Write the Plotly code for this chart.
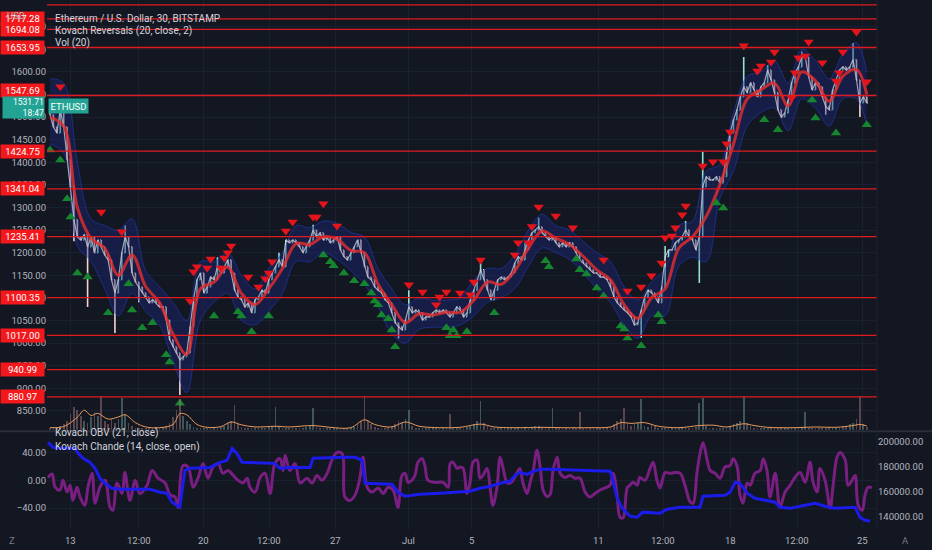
import plotly.graph_objects as go

# ---- price bars (one bar per read step, index 0..239) ----
close = [
    1505, 1478, 1465, 1516, 1478, 1405, 1346, 1273, 1235, 1228,
    1240, 1213, 1235, 1200, 1228, 1213, 1195, 1184, 1140, 1111,
    1140, 1200, 1235, 1213, 1155, 1135, 1124, 1111, 1102, 1089,
    1096, 1089, 1080, 1080, 1051, 1007, 992, 978, 963, 970,
    978, 1036, 1096, 1140, 1155, 1111, 1124, 1146, 1140, 1169,
    1155, 1169, 1184, 1155, 1117, 1102, 1096, 1080, 1089, 1067,
    1096, 1102, 1117, 1111, 1140, 1155, 1169, 1184, 1169, 1228,
    1222, 1228, 1222, 1213, 1200, 1213, 1228, 1250, 1235, 1244,
    1228, 1235, 1222, 1228,
    1235, 1206, 1191, 1184, 1200, 1213, 1228, 1200, 1169, 1146,
    1140, 1124, 1117, 1111, 1096, 1089, 1067, 1045, 1036, 1029,
    1051, 1080, 1067, 1073, 1067, 1051, 1058, 1058, 1067, 1073,
    1067, 1073, 1067, 1058, 1067, 1080, 1073, 1058, 1067, 1096,
    1117, 1140, 1162, 1140, 1117, 1096, 1117, 1140, 1146, 1140,
    1146, 1155, 1177, 1191, 1184, 1206, 1228, 1244, 1250, 1257,
    1244, 1235, 1228, 1235, 1222, 1213, 1222, 1213, 1222, 1213,
    1200, 1184, 1177, 1169, 1162, 1155, 1155, 1146, 1146, 1140,
    1124, 1102, 1089, 1080, 1073, 1067, 1058, 1040, 1045, 1073,
    1102, 1117, 1111, 1102, 1089, 1124, 1191, 1206, 1206, 1222,
    1228, 1235, 1250, 1235, 1228, 1206, 1235, 1346, 1368, 1361,
    1361, 1368, 1354, 1368, 1421, 1465, 1494, 1516, 1545, 1567,
    1554, 1576, 1560, 1545, 1567, 1576, 1604, 1582, 1554, 1516,
    1500, 1509, 1538, 1576, 1598, 1611, 1633, 1633, 1589, 1560,
    1576, 1567, 1545, 1523, 1516, 1560, 1582, 1604, 1611, 1604,
    1611, 1627, 1582, 1531, 1545, 1531,
]
first_open = 1520

# long wicks visible on the chart
spike_bar = [3, 7, 11, 19, 22, 26, 38, 49, 67, 77, 102, 105, 126, 139, 143,
             173, 180, 186, 190, 191, 203, 210, 220, 227, 235, 237]
spike_price = [1540, 1225, 1080, 1022, 1260, 1090, 885, 1190, 1200, 1262, 1010, 1117, 1180, 1222, 1277,
               1012, 1215, 1270, 1133, 1423, 1633, 1615, 1645, 1505, 1664, 1500]

volume = [
    0.5, 0.6, 0.8, 1.0, 1.5, 2.5, 4.5, 6.5, 5.5, 4.0,
    2.5, 2.0, 3.5, 5.0, 4.0, 9.5, 2.5, 1.5, 3.0, 2.0,
    3.0, 9.0, 4.5, 2.0, 1.0, 0.6, 0.5, 0.6, 0.5, 0.5,
    0.6, 0.5, 0.6, 0.8, 1.2, 2.0, 3.5, 5.5, 8.5, 4.0,
    2.5, 1.5, 0.8, 0.6, 0.5, 0.6, 0.5, 0.6, 0.8, 0.6,
    0.8, 1.2, 2.0, 2.5, 7.0, 1.5, 0.8, 0.6, 0.5, 0.6,
    0.5, 0.6, 0.5, 0.6, 0.8, 1.0, 6.5, 1.0, 0.6, 0.5,
    0.5, 0.6, 0.5, 0.5, 0.6, 0.8, 1.0, 6.0, 0.8, 0.6,
    0.5, 0.5, 0.6, 0.5, 0.5, 0.6, 0.5, 0.5, 0.6, 0.8,
    1.5, 2.5, 9.5, 2.5, 1.5, 0.8, 0.6, 0.5, 0.6, 0.8,
    1.0, 1.5, 2.5, 2.0, 3.0, 5.5, 1.0, 0.6, 0.5, 0.5,
    0.6, 0.5, 0.5, 0.6, 0.5, 0.5, 0.6, 4.5, 0.6, 0.5,
    0.5, 0.6, 0.8, 1.0, 1.5, 2.5, 8.0, 2.0, 1.0, 0.6,
    0.5, 0.5, 0.6, 0.5, 0.5, 0.6, 0.5, 0.8, 0.6, 0.5,
    0.6, 0.8, 1.0, 1.2, 0.8, 0.6, 0.5, 6.0, 0.6, 0.5,
    0.5, 0.6, 0.5, 0.6, 0.5, 5.0, 0.6, 0.5, 0.5, 0.6,
    0.5, 0.6, 0.5, 0.6, 0.8, 1.5, 2.5, 3.0, 6.0, 1.5,
    1.0, 1.5, 2.0, 8.5, 1.2, 0.8, 1.5, 1.0, 0.6, 0.5,
    0.6, 0.5, 0.6, 0.5, 0.6, 0.5, 0.6, 0.5, 0.5, 0.8,
    7.5, 9.0, 1.0, 0.6, 0.5, 0.6, 0.5, 0.6, 0.8, 1.0,
    1.5, 2.0, 2.5, 9.5, 2.0, 1.0, 0.6, 0.5, 0.6, 0.5,
    0.6, 0.5, 0.5, 0.6, 0.8, 0.6, 0.5, 0.5, 0.6, 0.5,
    0.5, 5.0, 0.6, 0.5, 0.6, 0.5, 0.5, 0.6, 0.8, 0.6,
    0.5, 0.6, 0.8, 1.0, 1.5, 2.0, 3.0, 9.5, 1.5, 0.8,
]

vma_bar = [0, 4, 8, 10, 12, 14, 17, 20, 22, 25, 28, 32, 36, 38, 40, 43, 46, 50, 53, 56,
           60, 66, 70, 77, 82, 88, 92, 95, 100, 104, 108, 114, 120, 126, 130, 136, 144, 150, 158, 164,
           167, 170, 174, 178, 184, 190, 194, 198, 203, 206, 210, 218, 224, 230, 235, 237, 239]
vma_val = [0.6, 0.9, 3.5, 5.5, 4.0, 4.6, 3.0, 3.6, 4.2, 2.0, 0.8, 0.6, 1.5, 4.5, 4.2, 1.5, 0.7, 0.9, 2.2, 1.4,
           0.8, 1.0, 0.8, 1.2, 0.7, 0.6, 2.8, 1.5, 0.8, 2.2, 1.0, 0.6, 0.7, 1.6, 0.8, 0.6, 0.7, 0.6, 0.6, 0.8,
           2.0, 1.8, 2.0, 1.0, 0.6, 1.2, 1.3, 0.8, 1.7, 1.2, 0.7, 0.6, 0.8, 0.7, 1.2, 1.5, 1.1]

# ---- Kovach Reversals: mid line and band, read every 4 bars ----
kr_bar = [0, 4, 8, 12, 16, 20, 24, 28, 32, 36, 40, 44, 48, 52, 56, 60, 64, 68, 72, 76,
          80, 84, 88, 92, 96, 100, 104, 108, 112, 116, 120, 124, 128, 132, 136, 140, 144, 148, 152, 156,
          160, 164, 168, 172, 176, 180, 184, 188, 192, 196, 200, 204, 208, 212, 216, 220, 224, 228, 232, 236, 239]
kr_mid = [1500, 1480, 1300, 1232, 1210, 1150, 1195, 1125, 1090, 1020, 975, 1120, 1135, 1168, 1110, 1085, 1120, 1165, 1220, 1218,
          1235, 1230, 1205, 1200, 1130, 1085, 1045, 1065, 1062, 1068, 1068, 1095, 1135, 1130, 1160, 1210, 1248, 1232, 1218, 1192,
          1162, 1140, 1085, 1055, 1100, 1120, 1210, 1235, 1280, 1350, 1440, 1540, 1560, 1575, 1525, 1600, 1580, 1535, 1590, 1605, 1550]
kr_upper = [1585, 1575, 1400, 1275, 1260, 1250, 1275, 1160, 1125, 1090, 1050, 1180, 1180, 1200, 1150, 1120, 1165, 1200, 1260, 1255,
            1270, 1265, 1245, 1235, 1165, 1120, 1085, 1100, 1095, 1095, 1100, 1140, 1165, 1165, 1195, 1250, 1285, 1260, 1250, 1225,
            1200, 1180, 1125, 1095, 1135, 1165, 1260, 1270, 1380, 1395, 1510, 1590, 1600, 1625, 1575, 1650, 1625, 1585, 1640, 1665, 1600]
kr_lower = [1440, 1420, 1215, 1180, 1120, 1060, 1110, 1070, 1040, 960, 890, 1050, 1090, 1110, 1050, 1040, 1070, 1110, 1180, 1180,
            1200, 1185, 1160, 1130, 1080, 1020, 1000, 1030, 1035, 1035, 1040, 1060, 1090, 1100, 1120, 1170, 1210, 1200, 1185, 1155,
            1120, 1090, 1040, 1010, 1060, 1060, 1170, 1190, 1180, 1320, 1380, 1480, 1510, 1520, 1470, 1540, 1520, 1480, 1540, 1540, 1480]

sell_bar = [3, 15, 21, 41, 42, 43, 46, 47, 50, 51, 52, 53, 58, 61, 63, 64, 65, 69, 71, 77,
            78, 80, 84, 105, 109, 113, 114, 116, 120, 123, 124, 126, 136, 137, 140, 141, 143, 148, 153, 162,
            169, 173, 176, 179, 180, 182, 183, 185, 186, 191, 194, 197, 198, 199, 203, 207, 208, 211, 212, 217,
            218, 219, 221, 222, 226, 230, 231, 232, 236, 239]
sell_price = [1567, 1290, 1246, 1093, 1158, 1169, 1166, 1186, 1166, 1188, 1200, 1215, 1146, 1124, 1142, 1155, 1180, 1248, 1268, 1279,
              1279, 1308, 1259, 1129, 1113, 1085, 1102, 1113, 1111, 1107, 1135, 1184, 1195, 1222, 1222, 1258, 1301, 1281, 1255, 1184,
              1115, 1124, 1149, 1177, 1233, 1237, 1255, 1284, 1303, 1392, 1401, 1401, 1441, 1467, 1658, 1602, 1613, 1622, 1644, 1542,
              1598, 1631, 1635, 1666, 1620, 1580, 1598, 1644, 1688, 1578]
buy_bar = [0, 3, 5, 6, 8, 11, 17, 23, 24, 27, 30, 34, 35, 38, 48, 55, 56, 59, 64, 80,
           82, 83, 86, 89, 92, 94, 95, 96, 97, 99, 100, 101, 116, 117, 118, 119, 122, 130, 145, 146,
           154, 155, 157, 160, 162, 167, 168, 169, 173, 178, 179, 195, 197, 209, 213, 223, 224, 230, 239]
buy_price = [1427, 1405, 1319, 1279, 1155, 1146, 1067, 1131, 1073, 1034, 1045, 974, 958, 867, 1060, 1069, 1060, 1025, 1060, 1195,
             1180, 1171, 1155, 1138, 1131, 1111, 1093, 1085, 1062, 1054, 1029, 992, 1034, 1016, 1029, 1016, 1025, 1067, 1182, 1169,
             1186, 1162, 1153, 1122, 1104, 1038, 1031, 1011, 994, 1062, 1047, 1310, 1299, 1494, 1472, 1538, 1498, 1465, 1483]

# ---- lower pane ----
chande_bar = [-0.6, 0.6, 1.5, 2.9, 3.8, 5.0, 5.9, 6.7, 7.9, 8.8,
              10.2, 11.1, 12.3, 13.2, 14.6, 16.1, 17.6, 18.4, 19.6, 21.1,
              21.9, 23.4, 24.9, 26.3, 28.4, 29.9, 31.6, 33.7, 35.1, 36.6,
              37.5, 38.9, 40.4, 41.9, 43.3, 44.8, 46.2, 47.7, 49.2, 50.6,
              52.1, 53.6, 55.0, 56.5, 57.7, 58.5, 60.0, 61.5, 62.9, 64.4,
              65.8, 67.3, 68.2, 68.8, 70.2, 71.7, 73.2, 75.2, 76.7, 78.1,
              79.6, 81.1, 82.5, 84.0, 85.5, 86.3, 87.8, 89.3, 90.7, 91.6,
              92.8, 94.2, 96.0, 97.5, 98.9, 100.4, 101.8, 103.0, 103.9, 104.8,
              105.9, 106.8, 107.7, 108.9, 109.7, 110.6, 112.7, 115.0, 116.5, 117.1,
              117.9, 119.1, 120.0, 120.9, 122.0, 122.9, 123.8, 125.0, 125.8, 126.7,
              127.9, 128.8, 129.6, 130.8, 131.7, 132.6, 133.7, 134.6, 135.5, 136.7,
              137.5, 138.4, 139.6, 140.5, 141.4, 142.5, 143.4, 144.3, 145.4, 146.3,
              147.2, 148.4, 149.3, 150.7, 152.2, 153.6, 155.1, 156.6, 158.0, 159.5,
              161.0, 162.4, 163.9, 164.8, 165.9, 166.8, 167.7, 168.9, 169.7, 170.6,
              171.8, 172.6, 174.1, 175.6, 176.5, 177.6, 178.5, 180.0, 181.4, 182.9,
              184.4, 185.8, 187.3, 188.2, 189.3, 190.2, 191.1, 192.3, 193.2, 194.6,
              196.1, 197.5, 199.0, 199.9, 201.1, 201.9, 202.8, 204.0, 204.9, 206.3,
              207.8, 208.7, 209.8, 210.7, 212.2, 213.6, 215.1, 216.6, 218.0, 219.5,
              221.0, 222.4, 223.3, 224.5, 225.3, 226.8, 228.3, 229.1, 230.3, 231.2,
              232.7, 233.5, 234.7, 235.6, 236.5, 237.7, 238.5, 239.4, 240.5]
chande_val = [4, 9, -10, -14, 0, -17, -7, -29, -10, -24,
              -36, -10, 10, -33, -10, 0, -39, -43, -4, -19,
              11, -29, 0, -19, -7, 14, 3, -4, -21, -24,
              -39, 21, 19, -10, 3, 24, 3, 19, 24, 10,
              14, 7, 0, -4, 3, -10, -17, 4, 10, -19,
              24, 31, 14, 36, 14, 24, -4, 3, -4, 7,
              0, 10, 29, 40, 38, -24, -29, -21, 4, 33,
              -10, -17, -11, -19, -10, -14, -39, 7, 10, -3,
              0, 7, 26, 31, 21, 0, -3, -3, -10, 24,
              26, 17, 19, 17, -19, -4, 26, 29, 3, 7,
              17, -11, -36, -10, 33, 17, -3, -4, 0, 11,
              17, -4, -19, -3, 14, 43, 21, -14, -23, -21,
              14, 33, 10, 4, 7, 3, 3, -17, -24, -19,
              -14, -11, -7, 10, -19, -53, -54, -11, -7, -3,
              -7, 4, 0, 17, 26, 0, -11, 11, 10, 11,
              10, -7, -31, -33, 10, 38, 54, 29, 14, 10,
              3, 19, 21, 31, 19, -21, -33, -4, -7, 10,
              14, 31, 14, -24, 10, -39, -17, -7, 4, 11,
              -3, 26, -3, -17, 17, 0, -40, -10, 33, 40,
              29, -7, 0, 7, -36, -43, -21, -10, -11]

obv_bar = [-0.6, 0.9, 2.9, 7.3, 8.2, 9.7, 11.7, 13.2, 14.6, 16.1,
           18.1, 20.5, 29.3, 32.2, 34.2, 35.7, 38.0, 38.6, 39.5, 41.0,
           46.8, 49.8, 51.8, 53.3, 54.7, 56.2, 65.8, 67.3, 70.2, 76.1,
           77.0, 86.3, 89.3, 91.3, 92.2, 100.1, 101.8, 103.9, 108.3, 114.1,
           120.0, 122.9, 125.8, 128.8, 131.7, 134.6, 136.1, 137.5, 139.6, 141.4,
           143.4, 146.3, 163.9, 164.5, 165.9, 167.4, 169.7, 171.8, 173.5, 178.5,
           180.6, 184.4, 190.2, 191.1, 197.5, 199.0, 200.5, 201.9, 204.0, 206.3,
           212.2, 213.6, 216.6, 219.5, 223.9, 226.8, 229.7, 235.6, 237.0, 238.5, 240.0]
obv_val = [199200, 195300, 194500, 194500, 190500, 186600, 183400, 178700, 170800, 166800,
           162800, 162000, 162000, 159700, 158900, 151800, 147800, 161300, 177100, 178700,
           179400, 183400, 185000, 194500, 190500, 183400, 182600, 178700, 179400, 179400,
           186600, 187400, 187400, 185000, 166800, 166000, 159700, 156500, 158100, 158900,
           159700, 160500, 162800, 164400, 166800, 168400, 173100, 175500, 173900, 176300,
           177900, 177900, 176300, 171500, 155700, 147000, 140700, 139900, 143900, 143100,
           146200, 147800, 147800, 156500, 157300, 159700, 167600, 166800, 158900, 154900,
           151800, 147800, 147000, 148600, 151000, 148600, 147000, 147800, 139900, 137500, 136800]

# ---- horizontal levels and axis labels ----
level_prices = [1717.28, 1694.08, 1653.95, 1547.69, 1424.75, 1341.04, 1235.41, 1100.35, 1017.00, 940.99, 880.97]
top_level = 1748.2
last_price = 1531.71
last_time = "18:47"

tick_bars = [6.1, 26.0, 44.8, 64.1, 83.4, 104.8, 123.2, 160.4, 179.4, 199.0, 218.6, 237.9]
tick_labels = ["13", "12:00", "20", "12:00", "27", "Jul", "5", "11", "12:00", "18", "12:00", "25"]

assert len(close) == len(volume) == 240
assert len(chande_bar) == len(chande_val) and len(obv_bar) == len(obv_val)

bars = list(range(len(close)))
opens = [first_open] + close[:-1]
highs = [max(o, c) for o, c in zip(opens, close)]
lows = [min(o, c) for o, c in zip(opens, close)]
for b, p in zip(spike_bar, spike_price):
    if p > highs[b]:
        highs[b] = p
    else:
        lows[b] = min(lows[b], p)

BG = "#131722"
GRID = "#1b2030"
TXT = "#b2b5be"
FONT = "Roboto, sans-serif"
UP = "#93e0d4"
DOWN = "#f2d2d2"

fig = go.Figure()

vol_colors = ["rgba(110,150,145,0.5)" if c >= o else "rgba(160,115,118,0.5)"
              for o, c in zip(opens, close)]
fig.add_trace(go.Bar(x=bars, y=volume, marker_color=vol_colors, marker_line_width=0,
                     width=0.5, yaxis="y3", hoverinfo="skip"))
fig.add_trace(go.Scatter(x=vma_bar, y=vma_val, mode="lines", yaxis="y3", hoverinfo="skip",
                         line=dict(color="#e99a5c", width=1, shape="spline")))

# band
fig.add_trace(go.Scatter(x=kr_bar, y=kr_upper, mode="lines", hoverinfo="skip",
                         line=dict(color="rgba(40,70,225,0.45)", width=1, shape="spline")))
fig.add_trace(go.Scatter(x=kr_bar, y=kr_lower, mode="lines", hoverinfo="skip", fill="tonexty",
                         fillcolor="rgba(26,40,125,0.42)",
                         line=dict(color="rgba(40,70,225,0.45)", width=1, shape="spline")))

# dense 30-minute candles of the original, drawn as thin bars plus the close path
fig.add_trace(go.Scatter(x=bars, y=close, mode="lines", hoverinfo="skip",
                         line=dict(color="rgba(215,205,210,0.75)", width=1.2)))
fig.add_trace(go.Ohlc(
    x=bars, open=opens, high=highs, low=lows, close=close, tickwidth=0.3,
    increasing=dict(line=dict(color=UP, width=1.6)),
    decreasing=dict(line=dict(color=DOWN, width=1.6)),
    hoverinfo="skip"))

fig.add_trace(go.Scatter(x=kr_bar, y=kr_mid, mode="lines", hoverinfo="skip",
                         line=dict(color="rgba(232,45,45,0.8)", width=3, shape="spline")))

fig.add_trace(go.Scatter(x=sell_bar, y=sell_price, mode="markers", hoverinfo="skip",
                         marker=dict(symbol="triangle-down", size=9, color="#e3141c")))
fig.add_trace(go.Scatter(x=buy_bar, y=buy_price, mode="markers", hoverinfo="skip",
                         marker=dict(symbol="triangle-up", size=9, color="#15862f")))

# lower pane
fig.add_trace(go.Scatter(x=chande_bar, y=chande_val, mode="lines", xaxis="x2", yaxis="y2",
                         hoverinfo="skip", line=dict(color="#7a1f82", width=3, shape="spline")))
fig.add_trace(go.Scatter(x=obv_bar, y=obv_val, mode="lines", xaxis="x2", yaxis="y4",
                         hoverinfo="skip", line=dict(color="#1b1bea", width=3)))

shapes = []
for p in level_prices + [top_level]:
    shapes.append(dict(type="line", xref="paper", x0=0, x1=1, yref="y", y0=p, y1=p,
                       line=dict(color="#e01b1f", width=1.3)))
# pane separator and right axis edge
shapes.append(dict(type="line", xref="paper", x0=-0.06, x1=1.07, yref="paper", y0=0.1865, y1=0.1865,
                   line=dict(color="#2a2e39", width=2)))
shapes.append(dict(type="line", xref="paper", x0=1, x1=1, yref="paper", y0=0, y1=1,
                   line=dict(color="#1e2230", width=1)))

annotations = []
for p in level_prices:
    # the tag just above the live price box is nudged up, as on the chart
    lift = 5 if 0 < p - last_price < 25 else 0
    annotations.append(dict(xref="paper", x=0, xanchor="right", xshift=-2, yref="y", y=p, yshift=lift,
                            text=f"{p:.2f}", showarrow=False, bgcolor="#f2181c", width=41,
                            borderpad=1, font=dict(color="white", size=9.5, family=FONT)))
annotations.append(dict(xref="paper", x=0, xanchor="right", xshift=-2, yref="y", y=last_price,
                        yanchor="middle", yshift=-5, text=f"{last_price:.2f}<br>{last_time}", align="right",
                        showarrow=False, bgcolor="#22a394", width=41, borderpad=0,
                        font=dict(color="white", size=8.5, family=FONT)))
annotations.append(dict(xref="paper", x=0, xanchor="left", xshift=1, yref="y", y=last_price,
                        yshift=-3, text="ETHUSD", showarrow=False, bgcolor="#22a394", borderpad=1.5,
                        font=dict(color="white", size=9.5, family=FONT)))

legend_rows = [
    ("Ethereum / U.S. Dollar, 30, BITSTAMP", 0.979),
    ("Kovach Reversals (20, close, 2)", 0.9565),
    ("Vol (20)", 0.934),
    ("Kovach OBV (21, close)", 0.168),
    ("Kovach Chande (14, close, open)", 0.1415),
]
for text, yy in legend_rows:
    annotations.append(dict(xref="paper", x=0.0072, xanchor="left", yref="paper", y=yy,
                            text=text, showarrow=False, font=dict(color="#d1d4dc", size=10, family=FONT)))
annotations.append(dict(xref="paper", x=-0.037, xanchor="center", yref="paper", y=0.985,
                        text="USD", showarrow=False, font=dict(color=TXT, size=9.5, family=FONT)))
annotations.append(dict(xref="paper", x=-0.042, xanchor="center", yref="paper", y=0, yanchor="middle",
                        yshift=-10, text="Z", showarrow=False, font=dict(color="#787b86", size=9.5, family=FONT)))
annotations.append(dict(xref="paper", x=1.034, xanchor="center", yref="paper", y=0, yanchor="middle",
                        yshift=-10, text="A", showarrow=False, font=dict(color="#787b86", size=9.5, family=FONT)))
# time labels along the bottom
for tb, tl in zip(tick_bars, tick_labels):
    annotations.append(dict(xref="x2", x=tb, xanchor="center", yref="paper", y=0, yanchor="middle",
                            yshift=-10, text=tl, showarrow=False, font=dict(color=TXT, size=9.5, family=FONT)))

xr = [-0.88, 242.0]
axis_font = dict(color=TXT, size=9.5, family=FONT)

fig.update_layout(
    width=932, height=550,
    margin=dict(l=47, r=55, t=0, b=20),
    paper_bgcolor=BG, plot_bgcolor=BG,
    showlegend=False,
    shapes=shapes, annotations=annotations,
    bargap=0,
    xaxis=dict(domain=[0, 1], range=xr, anchor="y", tickvals=tick_bars, showticklabels=False,
               showgrid=True, gridcolor=GRID, zeroline=False, rangeslider=dict(visible=False),
               fixedrange=True),
    xaxis2=dict(domain=[0, 1], range=xr, anchor="y2", tickvals=tick_bars, showticklabels=False,
                showgrid=True, gridcolor=GRID, zeroline=False, ticks=""),
    yaxis=dict(domain=[0.189, 1], range=[808, 1759], side="left",
               tickvals=[850 + 50 * k for k in range(18)], tickformat=".2f",
               tickfont=axis_font, showgrid=True, gridcolor=GRID, zeroline=False, ticks=""),
    yaxis2=dict(domain=[0, 0.184], range=[-71.4, 68.6], side="left", tickvals=[-40, 0, 40],
                tickformat=".2f", tickfont=axis_font, showgrid=True, gridcolor=GRID, zeroline=False,
                ticks=""),
    yaxis3=dict(overlaying="y", range=[0, 120], visible=False),
    yaxis4=dict(overlaying="y2", side="right", anchor="x2", range=[129740, 207100],
                tickvals=[140000, 160000, 180000, 200000], tickformat=".2f", tickfont=axis_font,
                showgrid=False, zeroline=False, ticks=""),
)

# the page's default 8px body margin would push the chart off the 932x550 window
fig.write_html("out.html", config={"displayModeBar": False},
               post_script="document.body.style.margin = '0';")
